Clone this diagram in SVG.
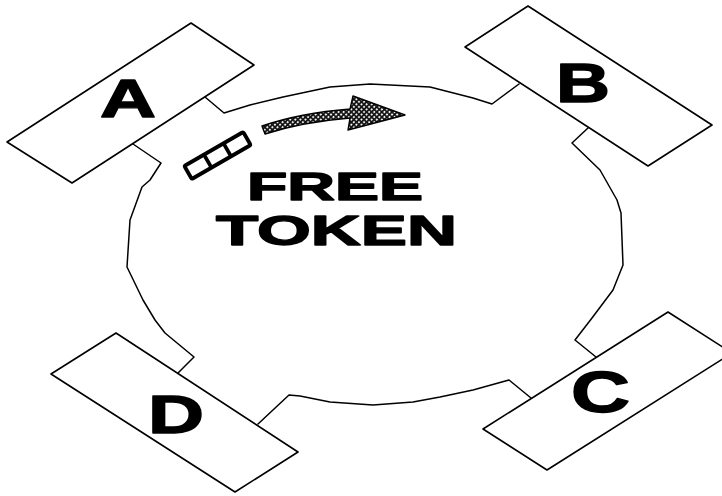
<svg xmlns="http://www.w3.org/2000/svg" width="722" height="496" viewBox="0 0 722 496">
  <style>
    .box { fill: #fff; stroke: #000; stroke-width: 1.6; stroke-linejoin: round; }
    .ring { fill: none; stroke: #000; stroke-width: 1.5; stroke-linejoin: round; stroke-linecap: round; }
    .lbl { font-family: "Liberation Sans", Arial, sans-serif; font-weight: bold; fill: #000; stroke: #000; stroke-width: 1.4; stroke-linejoin: round; }
  </style>
  <defs>
    <pattern id="dots" width="3.6" height="3.6" patternUnits="userSpaceOnUse" patternTransform="rotate(45)">
      <rect width="3.6" height="3.6" fill="#111"/>
      <circle cx="1.8" cy="1.8" r="1.05" fill="#fff"/>
    </pattern>
  </defs>
  <rect width="722" height="496" fill="#fff"/>

  <g id="connectors">
    <polyline class="ring" points="205,97 224,113 250,105 283,97 330,87 370,84 430,87 473,98 492,104 519,84"/>
    <polyline class="ring" points="588,128 572,143 600,170 617,200 621,213 623,265 613,290 592,318 575,340 596,357"/>
    <polyline class="ring" points="531,398 509,380 473,390 440,397 413,402 373,405 330,402 300,396 289,395 258,424"/>
    <polyline class="ring" points="178,373 194,357 165,333 155,320 143,300 127,267 130,220 142,187 150,180 161,163 133,144"/>
  </g>

  <g id="node-A">
    <polygon class="box" points="191,23 254,65 72,183 7,142"/>
    <text class="lbl" x="100" y="117" font-size="54" textLength="56" lengthAdjust="spacingAndGlyphs">A</text>
  </g>
  <g id="node-B">
    <polygon class="box" points="528,6 712,125 648,166 465,47"/>
    <text class="lbl" x="556" y="102" font-size="55" textLength="54" lengthAdjust="spacingAndGlyphs">B</text>
  </g>
  <g id="node-C">
    <polygon class="box" points="668,312 732,353 547,470 483,429"/>
    <text class="lbl" x="571" y="412" font-size="57" textLength="59" lengthAdjust="spacingAndGlyphs">C</text>
  </g>
  <g id="node-D">
    <polygon class="box" points="116,333 298,452 235,492 51,374"/>
    <text class="lbl" x="148" y="433" font-size="54" textLength="56" lengthAdjust="spacingAndGlyphs">D</text>
  </g>

  <g id="token">
    <g transform="translate(217.5,155.5) rotate(-30)">
      <rect x="-34" y="-7.5" width="68" height="15" rx="1.5" fill="#fff" stroke="#000" stroke-width="3.8"/>
      <line x1="-11.3" y1="-7.5" x2="-11.3" y2="7.5" stroke="#000" stroke-width="3.8"/>
      <line x1="11.3" y1="-7.5" x2="11.3" y2="7.5" stroke="#000" stroke-width="3.8"/>
    </g>
  </g>

  <g id="arrow">
    <path d="M262,126 Q300,113 350,109 L353,96 L405,115 L348,130 L350,118 Q302,122 265,134 Z" fill="url(#dots)" stroke="#000" stroke-width="1.4" stroke-linejoin="round"/>
  </g>

  <g id="title">
    <text class="lbl" x="247" y="200" font-size="39" textLength="176" lengthAdjust="spacingAndGlyphs">FREE</text>
    <text class="lbl" x="216" y="245" font-size="42" textLength="241" lengthAdjust="spacingAndGlyphs">TOKEN</text>
  </g>
</svg>
